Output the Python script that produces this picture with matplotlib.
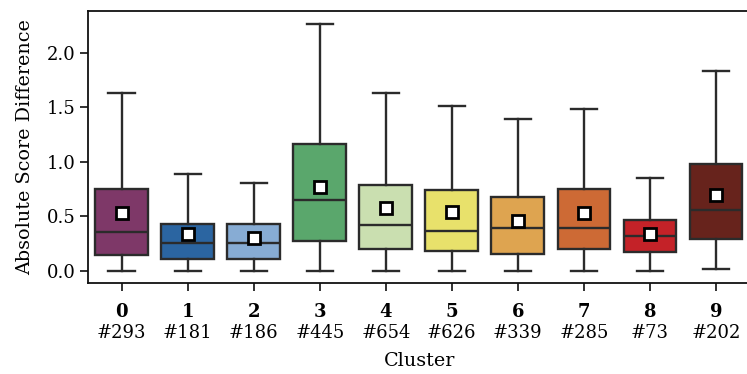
import matplotlib
matplotlib.use("Agg")
import matplotlib.pyplot as plt

plt.rcParams['font.family'] = ['DejaVu Serif']
plt.rcParams['mathtext.fontset'] = 'dejavuserif'
plt.rcParams['font.size'] = 13

clusters = [0, 1, 2, 3, 4, 5, 6, 7, 8, 9]
counts = [293, 181, 186, 445, 654, 626, 339, 285, 73, 202]
whislo = [0.0, 0.0, 0.0, 0.0, 0.0, 0.0, 0.0, 0.0, 0.0, 0.02]
q1 = [0.15, 0.11, 0.11, 0.27, 0.20, 0.18, 0.16, 0.20, 0.17, 0.29]
med = [0.36, 0.26, 0.26, 0.65, 0.42, 0.37, 0.39, 0.39, 0.32, 0.56]
q3 = [0.75, 0.43, 0.43, 1.16, 0.79, 0.74, 0.68, 0.75, 0.47, 0.98]
whishi = [1.63, 0.89, 0.81, 2.26, 1.63, 1.51, 1.39, 1.48, 0.85, 1.83]
means = [0.53, 0.34, 0.30, 0.77, 0.58, 0.54, 0.46, 0.53, 0.34, 0.70]
colors = ['#7e3868', '#2b65a1', '#87acd4', '#5aa76c', '#cadfb0',
          '#e8e16b', '#dea450', '#cd6a35', '#c42228', '#67231c']

fig = plt.figure(figsize=(7.47, 3.74), dpi=100)
ax = fig.add_axes([88/747, (374-283)/374, (751-88)/747, (283-10.5)/374])

stats = []
for i in range(len(clusters)):
    stats.append(dict(whislo=whislo[i], q1=q1[i], med=med[i], q3=q3[i],
                      whishi=whishi[i], mean=means[i], fliers=[]))

edge = '#2b2b2b'
bp = ax.bxp(stats, positions=clusters, widths=0.8, patch_artist=True,
            showmeans=True, showfliers=False,
            boxprops=dict(edgecolor=edge, linewidth=1.7),
            medianprops=dict(color=edge, linewidth=1.7),
            whiskerprops=dict(color=edge, linewidth=1.7),
            capprops=dict(color=edge, linewidth=1.7),
            meanprops=dict(marker='s', markerfacecolor='white',
                           markeredgecolor='black', markersize=8,
                           markeredgewidth=2.0),
            capwidths=0.4)
for patch, c in zip(bp['boxes'], colors):
    patch.set_facecolor(c)

ax.set_xlim(-0.51, 9.53)
ax.set_ylim(-0.11, 2.385)
ax.set_yticks([0.0, 0.5, 1.0, 1.5, 2.0])
ax.set_yticklabels(['0.0', '0.5', '1.0', '1.5', '2.0'])
ax.set_xticks(clusters)
ax.set_xticklabels([f"$\\mathbf{{{c}}}$\n#{n}" for c, n in zip(clusters, counts)],
                   linespacing=1.2)
ax.tick_params(axis='both', length=5.5, width=1.3, color='#222222', labelsize=13)
ax.tick_params(axis='x', pad=9)
for s in ax.spines.values():
    s.set_linewidth(1.3)
    s.set_color('#111111')
ax.set_ylabel('Absolute Score Difference', fontsize=13.8, labelpad=9)
ax.set_xlabel('Cluster', fontsize=13.8, labelpad=7)

fig.savefig('out.png', dpi=100)
